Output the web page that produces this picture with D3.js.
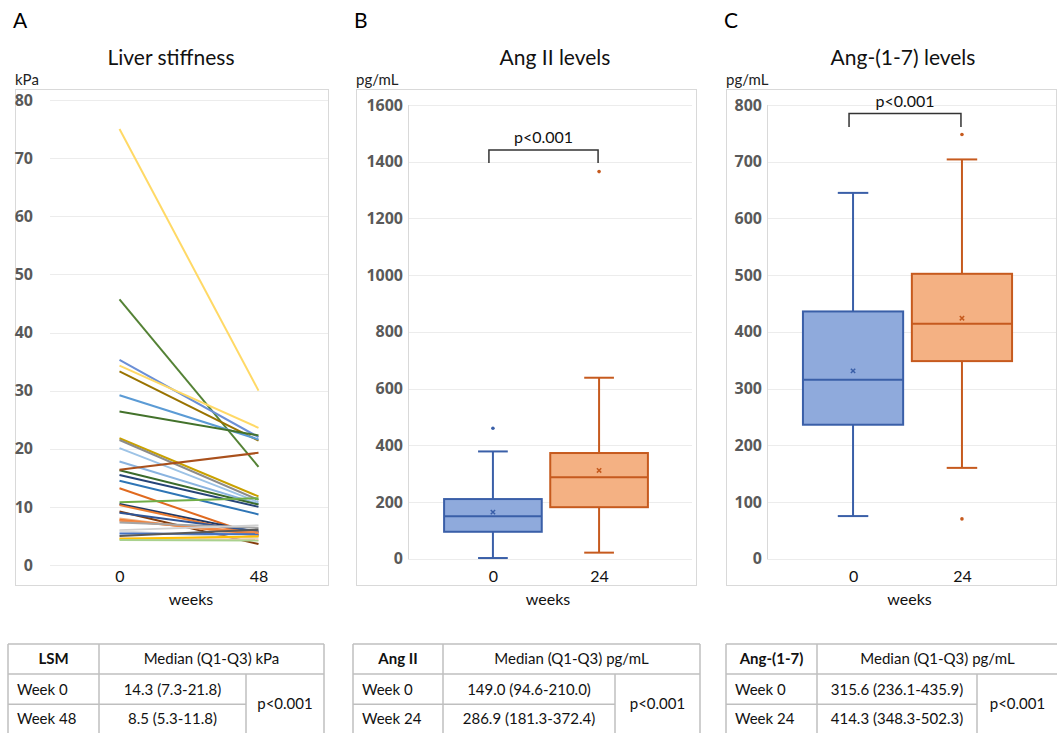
<!DOCTYPE html>
<html>
<head>
<meta charset="utf-8">
<script src="https://cdn.jsdelivr.net/npm/d3@7"></script>
<style>
  body { margin: 0; background: #fff; }
  svg text { font-family: Lato, "Noto Sans", sans-serif; }
  svg .ytick text { font-family: "Open Sans", "Noto Sans", sans-serif; font-weight: 700; font-size: 16px; fill: #595959; }
</style>
</head>
<body>
<script>
// ---- data ----
var lsmWeeks = ["0", "48"];
var lsmTicks = [0, 10, 20, 30, 40, 50, 60, 70, 80];
// liver stiffness per patient, week 0 and week 48 (kPa)
var lsmWeek0  = [75.0, 45.7, 35.3, 34.3, 33.3, 29.2, 26.4, 21.8, 21.5, 20.1, 17.8, 16.3, 15.5, 14.5, 13.2, 10.8, 10.5, 10.3, 9.2, 9.0, 8.0, 7.8, 7.6, 7.3, 6.0, 5.8, 5.4, 5.0, 4.6, 4.5, 4.3, 16.4];
var lsmWeek48 = [30.0, 16.9, 22.0, 23.6, 21.4, 21.6, 22.3, 11.8, 11.2, 10.8, 10.5, 10.4, 10.0, 8.7, 5.0, 11.5, 5.6, 5.2, 3.6, 5.8, 5.0, 5.3, 5.6, 6.4, 6.8, 4.6, 5.3, 6.1, 4.4, 4.9, 4.2, 19.3];
var lsmColors = ["#FFD966", "#548235", "#6B8FD6", "#FFD966", "#997300", "#5B9BD5", "#43722B", "#C9A100", "#8C8C8C", "#9DC3E6", "#8AB4E0", "#3B6B2A", "#264478", "#2E75B6", "#E06A1F", "#70AD47", "#203864", "#ED7D31", "#843C0C", "#2F5597", "#F4B183", "#ED7D31", "#F08A4B", "#A5A5A5", "#D0D0D0", "#D9D9D9", "#4472C4", "#595959", "#F8CBAD", "#FFC000", "#A9D18E", "#A9501C"];

var angWeeks = ["0", "24"];
var ang2Ticks = [0, 200, 400, 600, 800, 1000, 1200, 1400, 1600];
var ang2Q1 = [94.6, 181.3];
var ang2Median = [149.0, 286.9];
var ang2Q3 = [210.0, 372.4];
var ang2Low = [2, 21];
var ang2High = [378, 638];
var ang2Mean = [164, 311];
var ang2Outliers = [[460], [1365]];

var ang17Ticks = [0, 100, 200, 300, 400, 500, 600, 700, 800];
var ang17Q1 = [236.1, 348.3];
var ang17Median = [315.6, 414.3];
var ang17Q3 = [435.9, 502.3];
var ang17Low = [75, 160];
var ang17High = [645, 704];
var ang17Mean = [331, 424];
var ang17Outliers = [[], [748, 70]];

var tableHeads = ["LSM", "Ang II", "Ang-(1-7)"];
var tableUnits = ["Median (Q1-Q3) kPa", "Median (Q1-Q3) pg/mL", "Median (Q1-Q3) pg/mL"];
var tableRowNames = [["Week 0", "Week 48"], ["Week 0", "Week 24"], ["Week 0", "Week 24"]];
var tableValues = [["14.3 (7.3-21.8)", "8.5 (5.3-11.8)"], ["149.0 (94.6-210.0)", "286.9 (181.3-372.4)"], ["315.6 (236.1-435.9)", "414.3 (348.3-502.3)"]];
var tableP = ["p<0.001", "p<0.001", "p<0.001"];

// ---- chart ----
var svg = d3.select("body").append("svg")
    .attr("width", 1057)
    .attr("height", 733);

var blue = {fill: "#8FAADC", stroke: "#3A5FA8"},
    orange = {fill: "#F4B183", stroke: "#C65A1E"},
    gridColor = "#ECECEC", borderColor = "#D9D9D9";

function frame(x0, x1, letter, title, titleX, unit) {
    svg.append("rect")
        .attr("x", x0 + 0.5).attr("y", 89.5)
        .attr("width", x1 - x0).attr("height", 496)
        .attr("fill", "none").attr("stroke", borderColor);
    svg.append("text").attr("x", x0 - 2).attr("y", 28)
        .attr("font-size", 21).attr("fill", "#000").text(letter);
    svg.append("text").attr("x", titleX).attr("y", 65)
        .attr("text-anchor", "middle").attr("font-size", 21).attr("fill", "#111").text(title);
    svg.append("text").attr("x", x0).attr("y", 85)
        .attr("font-size", 15).attr("fill", "#222").text(unit);
}

function grid(y, ticks, x0, x1) {
    svg.append("g").selectAll("line")
        .data(ticks)
      .enter().append("line")
        .attr("x1", x0).attr("x2", x1)
        .attr("y1", function(d) { return Math.round(y(d)) + 0.5; })
        .attr("y2", function(d) { return Math.round(y(d)) + 0.5; })
        .attr("stroke", gridColor).attr("stroke-width", 1.2);
}

function axes(x, y, ticks, axisX, pad, base) {
    var gy = svg.append("g")
        .attr("class", "ytick")
        .attr("transform", "translate(" + axisX + ",0)")
        .call(d3.axisLeft(y).tickValues(ticks).tickFormat(d3.format("d")).tickSize(0).tickPadding(pad));
    gy.select(".domain").remove();

    var gx = svg.append("g")
        .attr("transform", "translate(0," + y(0) + ")")
        .call(d3.axisBottom(x).tickSize(0).tickPadding(base - y(0) - 11));
    gx.select(".domain").remove();
    gx.selectAll("text").attr("font-size", 16).attr("fill", "#111");

    svg.append("text")
        .attr("x", (x(x.domain()[0]) + x(x.domain()[1])) / 2 + 2)
        .attr("y", 605).attr("text-anchor", "middle")
        .attr("font-size", 16).attr("fill", "#111").text("weeks");
}

// Panel A : liver stiffness
frame(15, 328, "A", "Liver stiffness", 171, "kPa");
var xA = d3.scalePoint().domain(lsmWeeks).range([50, 328]).padding(0.5);
var yA = d3.scaleLinear().domain([0, 80]).range([565, 100]);
grid(yA, lsmTicks, 50, 328);
axes(xA, yA, lsmTicks, 50, 17, 582);

svg.append("g").selectAll("line")
    .data(lsmWeek0)
  .enter().append("line")
    .attr("x1", xA(lsmWeeks[0]))
    .attr("x2", xA(lsmWeeks[1]))
    .attr("y1", function(d) { return yA(d); })
    .attr("y2", function(d, i) { return yA(lsmWeek48[i]); })
    .attr("stroke", function(d, i) { return lsmColors[i]; })
    .attr("stroke-width", 2);

// box panels
function boxPanel(x, y, q1, med, q3, lo, hi, mean, outl) {
    var step = x.step(), bw = step * 0.92, cap = step * 0.28;
    var g = svg.append("g");
    x.domain().forEach(function(c, i) {
        var cx = x(c), col = i === 0 ? blue : orange;
        // whiskers
        g.append("line").attr("x1", cx).attr("x2", cx)
            .attr("y1", y(hi[i])).attr("y2", y(lo[i]))
            .attr("stroke", col.stroke).attr("stroke-width", 2);
        [lo[i], hi[i]].forEach(function(v) {
            g.append("line").attr("x1", cx - cap / 2).attr("x2", cx + cap / 2)
                .attr("y1", y(v)).attr("y2", y(v))
                .attr("stroke", col.stroke).attr("stroke-width", 2);
        });
        g.append("rect")
            .attr("x", cx - bw / 2).attr("y", y(q3[i]))
            .attr("width", bw).attr("height", y(q1[i]) - y(q3[i]))
            .attr("fill", col.fill).attr("stroke", col.stroke).attr("stroke-width", 2);
        g.append("line").attr("x1", cx - bw / 2).attr("x2", cx + bw / 2)
            .attr("y1", y(med[i])).attr("y2", y(med[i]))
            .attr("stroke", col.stroke).attr("stroke-width", 2);
        g.append("path")
            .attr("transform", "translate(" + cx + "," + y(mean[i]) + ")")
            .attr("d", d3.symbol(d3.symbolX, 14)())
            .attr("stroke", col.stroke).attr("stroke-width", 1.5).attr("fill", "none");
        g.selectAll(null).data(outl[i]).enter().append("circle")
            .attr("cx", cx).attr("cy", function(d) { return y(d); })
            .attr("r", 1.8).attr("fill", col.stroke);
    });
}

function bracket(x, y, top, legs, label) {
    var a = x(x.domain()[0]) - 4, b = x(x.domain()[1]) - 1;
    svg.append("path")
        .attr("d", "M" + a + "," + y(legs) + "V" + y(top) + "H" + b + "V" + y(legs))
        .attr("fill", "none").attr("stroke", "#333").attr("stroke-width", 1.5);
    svg.append("text").attr("x", (a + b) / 2).attr("y", y(top) - 7)
        .attr("text-anchor", "middle").attr("font-size", 16).attr("fill", "#111").text(label);
}

// Panel B : Ang II
frame(356, 696, "B", "Ang II levels", 555, "pg/mL");
var xB = d3.scalePoint().domain(angWeeks).range([408, 684]).padding(0.8);
var yB = d3.scaleLinear().domain([0, 1600]).range([558.6, 105]);
grid(yB, ang2Ticks, 408, 692);
svg.append("line").attr("x1", 408.5).attr("x2", 408.5).attr("y1", 105).attr("y2", 559)
    .attr("stroke", borderColor);
axes(xB, yB, ang2Ticks, 408, 5, 582);
bracket(xB, yB, 1441, 1395, "p<0.001");
boxPanel(xB, yB, ang2Q1, ang2Median, ang2Q3, ang2Low, ang2High, ang2Mean, ang2Outliers);

// Panel C : Ang-(1-7)
frame(726, 1056, "C", "Ang-(1-7) levels", 903, "pg/mL");
var xC = d3.scalePoint().domain(angWeeks).range([767, 1048]).padding(0.79);
var yC = d3.scaleLinear().domain([0, 800]).range([558.6, 105]);
grid(yC, ang17Ticks, 767, 1056);
svg.append("line").attr("x1", 767.5).attr("x2", 767.5).attr("y1", 105).attr("y2", 559)
    .attr("stroke", borderColor);
axes(xC, yC, ang17Ticks, 767, 5, 582);
bracket(xC, yC, 785, 761, "p<0.001");
boxPanel(xC, yC, ang17Q1, ang17Median, ang17Q3, ang17Low, ang17High, ang17Mean, ang17Outliers);

// ---- tables ----
var tableCols = [[8, 99, 246, 324], [353, 443, 615, 700], [726, 817, 977, 1058]];
var rowY = [644, 674, 704.3, 736];

tableHeads.forEach(function(head, t) {
    var c = tableCols[t], g = svg.append("g").attr("font-size", 15).attr("fill", "#111");
    var ln = function(x1, y1, x2, y2) {
        g.append("line").attr("x1", x1).attr("y1", y1).attr("x2", x2).attr("y2", y2)
            .attr("stroke", "#BFBFBF").attr("stroke-width", 1.5);
    };
    ln(c[0], rowY[0], c[3], rowY[0]);
    ln(c[0], rowY[1], c[3], rowY[1]);
    ln(c[0], rowY[2], c[2], rowY[2]);
    ln(c[0], rowY[0], c[0], rowY[3]);
    ln(c[1], rowY[0], c[1], rowY[3]);
    ln(c[2], rowY[1], c[2], rowY[3]);
    ln(c[3], rowY[0], c[3], rowY[3]);

    g.append("text").attr("x", (c[0] + c[1]) / 2).attr("y", 664)
        .attr("text-anchor", "middle").attr("font-weight", "bold").text(head);
    g.append("text").attr("x", (c[1] + c[3]) / 2).attr("y", 664)
        .attr("text-anchor", "middle").text(tableUnits[t]);
    tableRowNames[t].forEach(function(r, j) {
        g.append("text").attr("x", c[0] + 9).attr("y", [695, 724][j]).text(r);
        g.append("text").attr("x", (c[1] + c[2]) / 2).attr("y", [695, 724][j])
            .attr("text-anchor", "middle").text(tableValues[t][j]);
    });
    g.append("text").attr("x", (c[2] + c[3]) / 2).attr("y", 709)
        .attr("text-anchor", "middle").text(tableP[t]);
});
</script>
</body>
</html>
